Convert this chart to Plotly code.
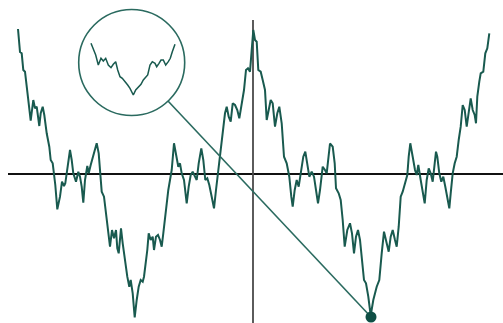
import plotly.graph_objects as go

# Main fractal curve (chart units: origin at the axes crossing)
curve_x = [-235, -233, -231.3, -229.7, -228, -226.3, -224.7, -222.3, -219.7, -218,
           -216.3, -215.3, -213.7, -212.3, -210.3, -208.7, -206.3, -203.7, -202.3, -200.3,
           -199, -197.7, -195.7, -193, -191, -189, -187.7, -186.3, -184.7, -183,
           -181.3, -179.7, -177, -174.7, -173, -171.3, -169.7, -168, -165.7, -164.3,
           -162.3, -159.7, -156.3, -154.3, -153, -151.3, -149, -147, -145.7, -143,
           -141, -139, -137, -135.7, -134.3, -133, -132, -130.3, -129, -127,
           -125.7, -123.7, -122.3, -120.3, -118.3, -116.3, -114.3, -112.3, -110.3, -109,
           -107, -105.7, -104.3, -102.3, -100.3, -99, -97, -95, -93, -91.3,
           -89.7, -88, -86.3, -84.7, -83, -81.3, -79, -77, -74.7, -73,
           -71.3, -69, -66.3, -64.3, -62.3, -60.3, -58.3, -56.3, -54.3, -51.7,
           -49.7, -47.7, -45.7, -43.7, -41.3, -39, -37, -34.7, -32.3, -30.3,
           -28, -26.3, -24.3, -22.3, -20.3, -18, -15.7, -13.7, -12, -10.3,
           -9, -7, -5, -3, -1.3, 0.3, 2, 3.7, 5.3, 7.7,
           9.7, 12, 13.7, 15.7, 17.7, 19.7, 22, 24.3, 26.3, 28.7,
           31, 33.7, 36.3, 38.3, 39.7, 41.7, 43.7, 45.7, 47.7, 50.3,
           52.3, 54.3, 56.3, 58.7, 61, 63, 65, 67, 69.7, 72,
           73.7, 77, 79.7, 81.7, 83, 85.7, 87.7, 89.7, 91.7, 94.3,
           97, 99, 101, 103, 105, 107, 109, 111, 113, 115.3,
           117.7, 120.3, 123.7, 126.3, 128.7, 131, 133.7, 135.7, 137.7, 139.7,
           142, 143.7, 145.7, 147.7, 149.7, 152.3, 154.3, 155.7, 157.3, 159.7,
           162, 163.7, 165.3, 167.7, 170.3, 171.7, 173.7, 175.7, 177.7, 179.7,
           181.7, 183, 184.3, 186.3, 188.3, 190.3, 192.3, 194.3, 196.3, 197.7,
           199.7, 201.7, 203.7, 205.7, 207.7, 209.7, 211.7, 213.7, 215.7, 217.7,
           219.7, 221.7, 223, 224.3, 226.3, 227.7, 230.3, 232.3, 234.3, 236.3]
curve_y = [145, 122, 120.7, 104, 102.3, 87.3, 74, 53.3, 74, 65.7,
           67.3, 59, 48, 60.7, 67.3, 59, 40.7, 27.3, 14, 10.7,
           0.7, -11, -35.3, -22.7, -7.7, -12, -9.3, 0.7, 14, 24,
           14, 0.7, -7.7, 2.3, -2.7, -12.7, -28.7, -6, 8, 0.7,
           9, 19, 30.7, 20.7, 0.7, -17.7, -22.7, -39.3, -56, -72.7,
           -56, -64.3, -56, -74.3, -79.3, -59.3, -54.3, -69.3, -79.3, -92.7,
           -102.7, -112.7, -106, -119.3, -143.5, -126, -112.7, -106, -107.7, -102.7,
           -89.3, -76, -59.3, -66, -62.7, -76, -62.7, -61, -66, -72.7,
           -59.3, -42.7, -26, -16, -6, 4, 30.7, 20.7, 7.3, 10.7,
           0.7, -6, -29.3, -12.7, -1, 2.3, -2.7, -6, 10.7, 25.7,
           14, -6, -4.3, -11, -22.7, -34.3, -16, 4, 20.7, 37.3,
           60.7, 67.3, 57.3, 52.3, 70.7, 69, 64, 55.7, 67.3, 74,
           84, 104, 105.7, 102.3, 120.7, 144, 134, 132.3, 104, 102.3,
           94, 84, 54, 64, 74, 70.7, 47.3, 60.7, 67.3, 50.7,
           17.3, 10.7, -2.7, -22.7, -32.7, -16, -6, -12.7, 0.7, 17.3,
           22.3, 10.7, -2.7, 2.3, -2.7, -16, -29.3, -16, 7.3, 4,
           0.7, 30.5, 27.3, 10.7, -14.3, -19.3, -26, -46, -72.7, -56,
           -49.3, -59.3, -79.3, -62.7, -56, -66, -86, -106, -109.3, -122.7,
           -141.5, -126, -112.7, -106, -79.3, -57.7, -69.3, -77.7, -62.7, -56,
           -66, -72.7, -52.7, -22.7, -17.7, -9.3, -1, 17.3, 30.7, 17.3,
           4, -1, 9, -6, -19.3, -29.3, -6, 5.7, 0.7, -7.7,
           10.7, 22.3, 17.3, 0.7, -7.7, -2.7, -12.7, -26, -34.3, -19.3,
           0.7, 10.7, 17.3, 34, 47.3, 69, 64, 47.3, 64, 75.7,
           64, 59, 50.7, 77.3, 92.3, 100.7, 102.3, 120.7, 125.7, 140.7]

# Magnified detail shown inside the circle
inset_x = [-162, -159.7, -157.3, -154.7, -152, -149.7, -147.3, -144.7, -142, -139.7,
           -137.3, -135.3, -133, -130.7, -128, -125.3, -123, -119.7, -117.3, -114.7,
           -112, -109.7, -107.3, -105.3, -103, -100.7, -98, -96.3, -94, -92,
           -89.7, -87.3, -84.7, -82.7, -80.7, -78]
inset_y = [130.7, 125.7, 119, 109, 115.7, 113, 115.7, 109, 106.3, 109.7,
           112.3, 104, 97.3, 95.7, 91.7, 89, 85.7, 79, 84, 87.3,
           89.7, 94, 97.3, 99, 109, 112.3, 110.7, 107.3, 110.7, 114,
           114, 109, 112.3, 115.7, 122.3, 129.7]

# Magnifier circle, its leader line and the marked point
circle_center = [-121.3, 111.5]
circle_radius = 53
leader_x = [-85, 118]
leader_y = [73, -143]
point_x = [118]
point_y = [-143]

# Axes extents
hline_x = [-245, 250]
hline_y = [0, 0]
vline_x = [0, 0]
vline_y = [154, -149]

curve_color = "#195a4f"
accent_color = "#2a6a5f"

fig = go.Figure()
fig.add_trace(go.Scatter(x=hline_x, y=hline_y, mode="lines",
                         line=dict(color="#111111", width=2.2), hoverinfo="skip"))
fig.add_trace(go.Scatter(x=vline_x, y=vline_y, mode="lines",
                         line=dict(color="#4a4a4a", width=1.8), hoverinfo="skip"))
fig.add_trace(go.Scatter(x=curve_x, y=curve_y, mode="lines",
                         line=dict(color=curve_color, width=2)))
fig.add_trace(go.Scatter(x=leader_x, y=leader_y, mode="lines",
                         line=dict(color=accent_color, width=1.6), hoverinfo="skip"))
fig.add_trace(go.Scatter(x=inset_x, y=inset_y, mode="lines",
                         line=dict(color=curve_color, width=1.5)))
fig.add_trace(go.Scatter(x=point_x, y=point_y, mode="markers",
                         marker=dict(color="#0f4f45", size=11)))

fig.add_shape(type="circle", xref="x", yref="y",
              x0=circle_center[0] - circle_radius, x1=circle_center[0] + circle_radius,
              y0=circle_center[1] - circle_radius, y1=circle_center[1] + circle_radius,
              line=dict(color=accent_color, width=1.6))

fig.update_layout(
    width=503, height=323, autosize=False,
    margin=dict(l=0, r=0, t=0, b=0),
    paper_bgcolor="white", plot_bgcolor="white",
    showlegend=False,
    xaxis=dict(range=[-253, 250], visible=False, fixedrange=True),
    yaxis=dict(range=[-149, 174], visible=False, fixedrange=True),
)

fig.write_html("out.html", config={"displayModeBar": False})
